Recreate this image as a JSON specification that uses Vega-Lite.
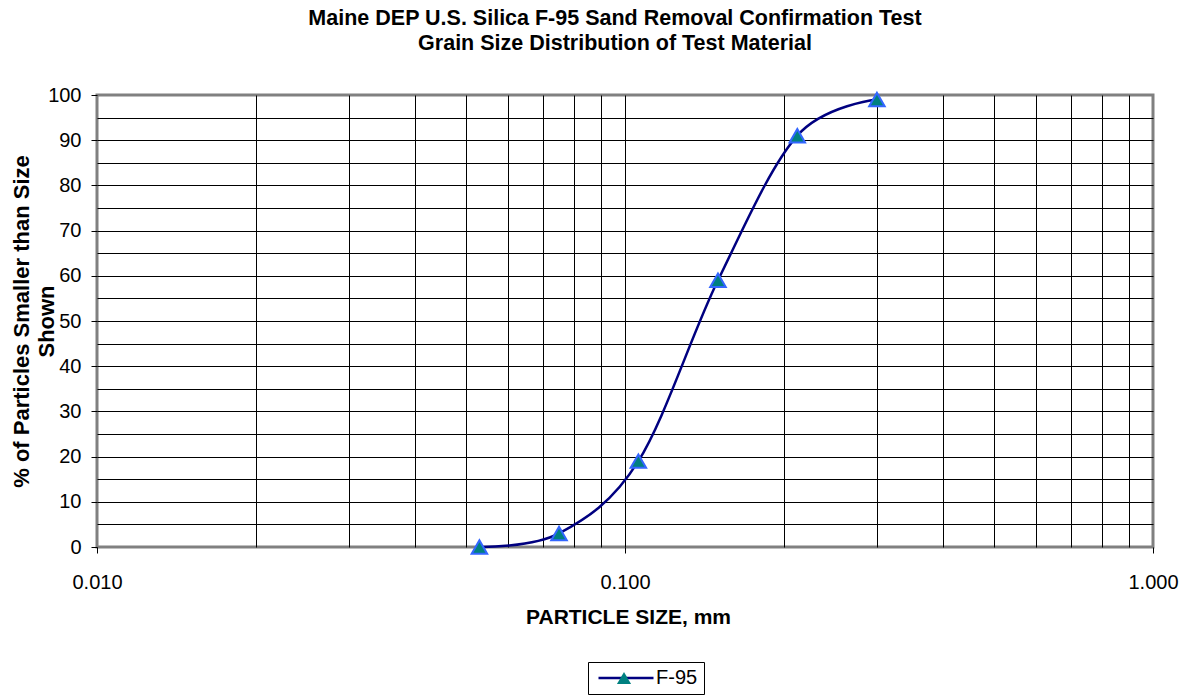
{
  "$schema": "https://vega.github.io/schema/vega-lite/v6.json",
  "width": 1056,
  "height": 452,
  "autosize": "none",
  "padding": {"left": 97, "top": 95, "right": 30, "bottom": 151},
  "background": "white",
  "config": {
    "font": "Liberation Sans",
    "view": {"stroke": "#808080", "strokeWidth": 3}
  },
  "title": {
    "text": ["Maine DEP U.S. Silica F-95 Sand Removal Confirmation Test", "Grain Size Distribution of Test Material"],
    "fontSize": 21.5,
    "fontWeight": "bold",
    "font": "Liberation Sans",
    "color": "black",
    "lineHeight": 25,
    "anchor": "middle",
    "dx": -10,
    "offset": 31
  },
  "data": {
    "values": [
      {"series": "F-95", "size": 0.053, "pct": 0},
      {"series": "F-95", "size": 0.075, "pct": 3},
      {"series": "F-95", "size": 0.106, "pct": 19},
      {"series": "F-95", "size": 0.150, "pct": 59},
      {"series": "F-95", "size": 0.212, "pct": 91},
      {"series": "F-95", "size": 0.300, "pct": 99}
    ]
  },
  "encoding": {
    "x": {
      "field": "size",
      "type": "quantitative",
      "scale": {"type": "log", "domain": [0.01, 1]},
      "axis": {
        "values": [0.01, 0.02, 0.03, 0.04, 0.05, 0.06, 0.07, 0.08, 0.09, 0.1, 0.2, 0.3, 0.4, 0.5, 0.6, 0.7, 0.8, 0.9, 1],
        "labelExpr": "abs(log(datum.value)/LN10 - round(log(datum.value)/LN10)) < 0.001 ? format(datum.value, '.3f') : ''",
        "labelOverlap": false,
        "labelFlush": false,
        "labelBound": false,
        "grid": true,
        "gridColor": {"condition": {"test": "datum.value < 0.0101 || datum.value > 0.99", "value": "transparent"}, "value": "black"},
        "gridWidth": 1,
        "tickColor": {"condition": {"test": "abs(log(datum.value)/LN10 - round(log(datum.value)/LN10)) > 0.001", "value": "transparent"}, "value": "black"},
        "tickSize": 6,
        "domain": false,
        "labelFontSize": 20,
        "labelColor": "black",
        "labelPadding": 19,
        "title": "PARTICLE SIZE, mm",
        "titleFontSize": 21,
        "titleFontWeight": "bold",
        "titleColor": "black",
        "titleY": 76,
        "titleX": 531,
        "titleBaseline": "alphabetic"
      }
    },
    "y": {
      "field": "pct",
      "type": "quantitative",
      "scale": {"domain": [0, 100]},
      "axis": {
        "values": [0, 5, 10, 15, 20, 25, 30, 35, 40, 45, 50, 55, 60, 65, 70, 75, 80, 85, 90, 95, 100],
        "labelExpr": "datum.value % 10 === 0 ? datum.label : ''",
        "labelOverlap": false,
        "labelFlush": false,
        "labelBound": false,
        "grid": true,
        "gridColor": {"condition": {"test": "datum.value < 0.5 || datum.value > 99.5", "value": "transparent"}, "value": "black"},
        "gridWidth": 1,
        "tickColor": {"condition": {"test": "datum.value % 10 !== 0", "value": "transparent"}, "value": "black"},
        "tickSize": 6,
        "domain": false,
        "labelFontSize": 20,
        "labelColor": "black",
        "labelPadding": 10,
        "title": ["% of Particles Smaller than Size", "Shown"],
        "titleFontSize": 22,
        "titleFontWeight": "bold",
        "titleColor": "black",
        "titleAngle": -90,
        "titleX": -69,
        "titleY": 226,
        "titleAlign": "center",
        "titleBaseline": "alphabetic",
        "titleLineHeight": 25
      }
    }
  },
  "layer": [
    {
      "mark": {"type": "line", "interpolate": "cardinal", "strokeWidth": 2.5},
      "encoding": {
        "color": {
          "field": "series",
          "type": "nominal",
          "scale": {"range": ["#000080"]},
          "legend": {
            "orient": "none",
            "legendX": 491,
            "legendY": 567,
            "title": null,
            "symbolType": "M-5,0L5,0",
            "symbolSize": 121,
            "symbolStrokeWidth": 2.5,
            "symbolOffset": 22,
            "labelFontSize": 20,
            "labelColor": "black",
            "labelFont": "Liberation Sans",
            "labelOffset": 20,
            "padding": 6,
            "strokeColor": "black",
            "fillColor": "white"
          }
        }
      }
    },
    {
      "mark": {"type": "point", "filled": true, "fill": "#008080", "stroke": "#3366FF", "strokeWidth": 2, "size": 240, "opacity": 1},
      "encoding": {
        "shape": {
          "field": "series",
          "type": "nominal",
          "scale": {"range": ["triangle-up"]},
          "legend": {
            "orient": "none",
            "legendX": 491,
            "legendY": 567,
            "title": null,
            "symbolSize": 200,
            "symbolFillColor": "#008080",
            "symbolStrokeColor": "#3366FF",
            "symbolStrokeWidth": 2,
            "symbolOffset": 20,
            "labelExpr": "''",
            "labelFontSize": 20,
            "labelColor": "transparent",
            "labelFont": "Liberation Sans",
            "labelOffset": 5,
            "padding": 6
          }
        }
      }
    }
  ]
}
